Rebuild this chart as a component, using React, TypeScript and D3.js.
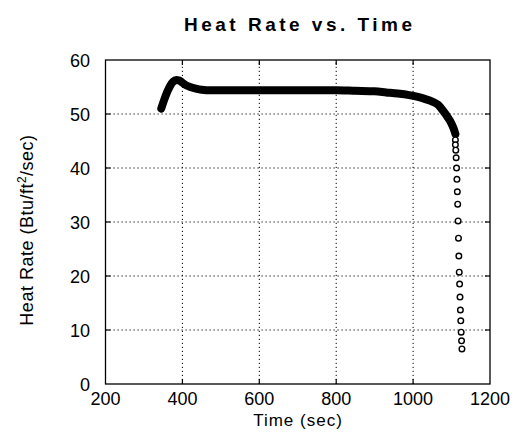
import React from 'react';
import * as d3 from 'd3';

// dense part of the record (drawn as heavy band)
const bandTime = [345, 352, 360, 368, 376, 384, 392, 400, 410, 420, 435, 450, 475, 500, 550, 600, 650, 700, 750, 800, 850, 900, 930, 960, 990, 1010, 1030, 1050, 1065, 1078, 1090, 1100, 1106, 1110];
const bandRate = [51.0, 52.5, 54.0, 55.2, 56.0, 56.3, 56.2, 55.8, 55.3, 55.0, 54.7, 54.5, 54.4, 54.4, 54.4, 54.4, 54.4, 54.4, 54.4, 54.4, 54.3, 54.2, 54.0, 53.8, 53.5, 53.2, 52.8, 52.3, 51.7, 50.6, 49.4, 48.2, 47.2, 46.3];

// sparse tail (open circles)
const tailTime = [1110, 1110, 1111, 1112, 1113, 1114, 1115, 1116, 1117, 1118, 1119, 1120, 1121, 1122, 1123, 1124, 1125, 1126, 1127];
const tailRate = [45.2, 44.3, 43.3, 41.9, 40.0, 37.9, 35.6, 33.3, 30.2, 27.0, 23.7, 20.7, 18.5, 16.1, 13.7, 11.7, 9.6, 8.0, 6.5];

const xTicks = [200, 400, 600, 800, 1000, 1200];
const yTicks = [0, 10, 20, 30, 40, 50, 60];

const font = '"Liberation Sans", Arial, Helvetica, sans-serif';

const App = () => {
    const width = 517;
    const height = 442;

    const x = d3.scaleLinear().domain([200, 1200]).range([105.5, 490]);
    const y = d3.scaleLinear().domain([0, 60]).range([384, 60]);

    const line = d3.line()
        .x(function(d) { return x(d[0]) })
        .y(function(d) { return y(d[1]) })
        .curve(d3.curveMonotoneX);

    const band = bandTime.map(function(t, i) { return [t, bandRate[i]] });
    const tail = tailTime.map(function(t, i) { return [t, tailRate[i]] });

    const x0 = x.range()[0], x1 = x.range()[1];
    const y0 = y.range()[0], y1 = y.range()[1];

    return (
        <svg width={width} height={height} style={{ position: 'absolute', left: 0, top: 0, background: '#fff' }}>
            <rect width={width} height={height} fill="#fff" />

            {/* dotted grid */}
            {xTicks.slice(1, -1).map(function(t) {
                return <line key={'gx' + t} x1={x(t)} x2={x(t)} y1={y0} y2={y1}
                    stroke="#000" strokeWidth={1} strokeDasharray="1.2,2.8" />
            })}
            {yTicks.slice(1, -1).map(function(t) {
                return <line key={'gy' + t} x1={x0} x2={x1} y1={y(t)} y2={y(t)}
                    stroke="#000" strokeWidth={1} strokeDasharray="1.2,2.8" />
            })}

            {/* ticks on all four sides */}
            {xTicks.slice(1, -1).map(function(t) {
                return <g key={'tx' + t}>
                    <line x1={x(t)} x2={x(t)} y1={y0} y2={y0 - 5} stroke="#000" strokeWidth={1.2} />
                    <line x1={x(t)} x2={x(t)} y1={y1} y2={y1 + 5} stroke="#000" strokeWidth={1.2} />
                </g>
            })}
            {yTicks.slice(1, -1).map(function(t) {
                return <g key={'ty' + t}>
                    <line x1={x0} x2={x0 + 5} y1={y(t)} y2={y(t)} stroke="#000" strokeWidth={1.2} />
                    <line x1={x1} x2={x1 - 5} y1={y(t)} y2={y(t)} stroke="#000" strokeWidth={1.2} />
                </g>
            })}

            <rect x={x0} y={y1} width={x1 - x0} height={y0 - y1} fill="none" stroke="#000" strokeWidth={1.3} />

            {/* data */}
            <path d={line(band)} fill="none" stroke="#000" strokeWidth={8} strokeLinecap="round" strokeLinejoin="round" />
            {tail.map(function(d, i) {
                return <circle key={'c' + i} cx={x(d[0])} cy={y(d[1])} r={2.8}
                    fill="#fff" stroke="#000" strokeWidth={1.4} />
            })}

            {/* tick labels */}
            {xTicks.map(function(t) {
                return <text key={'lx' + t} x={x(t)} y={405} textAnchor="middle"
                    fontFamily={font} fontSize={18} fill="#000">{t}</text>
            })}
            {yTicks.map(function(t) {
                return <text key={'ly' + t} x={90} y={y(t) + 6.5} textAnchor="end"
                    fontFamily={font} fontSize={18} fill="#000">{t}</text>
            })}

            {/* titles */}
            <text x={298} y={31} textAnchor="middle" fontFamily={font} fontSize={19} fontWeight="bold"
                textLength={228} lengthAdjust="spacing" fill="#000">Heat Rate vs. Time</text>
            <text x={298} y={426} textAnchor="middle" fontFamily={font} fontSize={17} letterSpacing={1} fill="#000">Time (sec)</text>
            <text transform="translate(33,230) rotate(-90)" textAnchor="middle" fontFamily={font} fontSize={18}
                letterSpacing={0.5} fill="#000">
                Heat Rate (Btu/ft<tspan dy={-7} fontSize={12}>2</tspan><tspan dy={7}>/sec)</tspan>
            </text>
        </svg>
    );
};

export default App;
